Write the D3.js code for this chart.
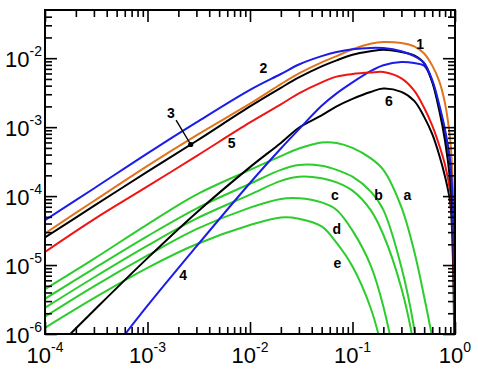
<!DOCTYPE html>
<html>
<head>
<meta charset="utf-8">
<script src="https://cdn.jsdelivr.net/npm/d3@7"></script>
<style>
  html, body { margin: 0; padding: 0; background: #fff; }
  svg { display: block; font-family: "Liberation Sans", Arial, sans-serif; }
</style>
</head>
<body>
<script>
// x grid shared by all curves
let xs = [1e-4, 3e-4, 1e-3, 3e-3, 0.01, 0.02, 0.03, 0.05, 0.07, 0.1, 0.15, 0.2, 0.3, 0.4, 0.5, 0.6, 0.7, 0.8, 0.9, 0.95, 0.98, 0.995];

// curves 1..6
let curve1 = [2.88e-5, 8.5e-5, 2.75e-4, 7.6e-4, 2.19e-3, 4.2e-3, 6.0e-3, 8.7e-3, 1.07e-2, 1.35e-2, 1.62e-2, 1.72e-2, 1.66e-2, 1.48e-2, 1.17e-2, 7.8e-3, 4.7e-3, 2.19e-3, 6.3e-4, 1.58e-4, 1.12e-5, 1.26e-7];
let curve2 = [4.47e-5, 1.29e-4, 4.17e-4, 1.17e-3, 3.47e-3, 5.9e-3, 8.1e-3, 1.07e-2, 1.23e-2, 1.35e-2, 1.41e-2, 1.40e-2, 1.26e-2, 1.07e-2, 8.5e-3, 4.8e-3, 2.14e-3, 9.1e-4, 3.16e-4, 7.9e-5, 6.3e-6, 1.26e-7];
let curve3 = [2.51e-5, 7.2e-5, 2.26e-4, 6.3e-4, 2.0e-3, 3.72e-3, 5.25e-3, 7.6e-3, 9.3e-3, 1.12e-2, 1.26e-2, 1.33e-2, 1.23e-2, 1.10e-2, 8.5e-3, 4.47e-3, 1.78e-3, 6.3e-4, 1.58e-4, 3.98e-5, 3.16e-6, 7.9e-8];
let curve4 = [3.55e-8, 2.63e-7, 2.57e-6, 1.86e-5, 1.55e-4, 4.9e-4, 9.3e-4, 2.04e-3, 3.09e-3, 4.47e-3, 6.5e-3, 7.9e-3, 8.8e-3, 8.5e-3, 7.8e-3, 4.6e-3, 2.0e-3, 8.3e-4, 2.82e-4, 7.1e-5, 5.6e-6, 1.12e-7];
let curve5 = [1.55e-5, 4.6e-5, 1.38e-4, 3.8e-4, 1.17e-3, 2.14e-3, 3.09e-3, 4.47e-3, 5.4e-3, 5.9e-3, 6.2e-3, 6.3e-3, 5.1e-3, 3.39e-3, 1.91e-3, 1.05e-3, 5.5e-4, 2.82e-4, 1.12e-4, 3.16e-5, 2.82e-6, 6.3e-8];
let curve6 = [4.3e-7, 2.19e-6, 1.26e-5, 5.75e-5, 2.63e-4, 5.9e-4, 9.8e-4, 1.48e-3, 2.0e-3, 2.57e-3, 3.24e-3, 3.63e-3, 3.24e-3, 2.4e-3, 1.41e-3, 7.9e-4, 3.98e-4, 1.91e-4, 7.9e-5, 1.58e-5, 1.26e-6, 3.16e-8];

// green curves a..e (only up to where they leave the plot)
let curveA = [4.47e-6, 1.23e-5, 3.89e-5, 1.05e-4, 2.4e-4, 3.8e-4, 4.9e-4, 6.0e-4, 5.9e-4, 5.0e-4, 3.55e-4, 2.4e-4, 6.9e-5, 1.58e-5, 3.47e-6, 8.9e-7, 2.5e-7];
let curveB = [3.24e-6, 8.9e-6, 2.63e-5, 6.6e-5, 1.51e-4, 2.4e-4, 2.82e-4, 2.75e-4, 2.4e-4, 1.91e-4, 1.17e-4, 6.3e-5, 9.3e-6, 1.2e-6, 1e-7];
let curveC = [2.4e-6, 6.6e-6, 1.91e-5, 4.7e-5, 1.05e-4, 1.66e-4, 1.91e-4, 1.82e-4, 1.58e-4, 1.2e-4, 6.3e-5, 2.75e-5, 4.6e-6, 6.3e-7, 4e-8];
let curveD = [1.78e-6, 4.9e-6, 1.38e-5, 3.31e-5, 6.8e-5, 9.1e-5, 9.3e-5, 8.1e-5, 6.3e-5, 3.16e-5, 1e-5, 2.5e-6, 1.26e-7, 5e-9];
let curveE = [1.23e-6, 3.31e-6, 9.1e-6, 2.0e-5, 3.8e-5, 4.9e-5, 4.7e-5, 3.63e-5, 2.09e-5, 9.5e-6, 2.4e-6, 5e-7, 1.6e-8, 6.3e-10];

// tick labels
let xMajor = [1e-4, 1e-3, 1e-2, 1e-1, 1];
let yMajor = [1e-6, 1e-5, 1e-4, 1e-3, 1e-2];

// curve labels: [text, x, y]
let curveLabels = [
    ["1", 0.456, 0.016], ["2", 0.0135, 7.2e-3], ["3", 1.69e-3, 1.6e-3],
    ["4", 2.23e-3, 7.3e-6], ["5", 6.64e-3, 5.8e-4], ["6", 0.227, 2.38e-3],
    ["a", 0.343, 1.03e-4], ["b", 0.179, 1.03e-4], ["c", 0.0675, 1.03e-4],
    ["d", 0.0702, 3.29e-5], ["e", 0.0711, 1.09e-5]
];
let arrowFrom = [1.9e-3, 1.26e-3];
let arrowTo = [2.64e-3, 5.6e-4];

let width = 478;
let height = 372;
let plot = { left: 45, right: 455, top: 10, bottom: 334 };

let svg = d3.select("body").append("svg")
    .attr("width", width).attr("height", height);

let x = d3.scaleLog().domain([1e-4, 1]).range([plot.left, plot.right]);
let y = d3.scaleLog().domain([1e-6, 5e-2]).range([plot.bottom, plot.top]);

svg.append("clipPath").attr("id", "clip")
    .append("rect")
    .attr("x", plot.left).attr("y", plot.top)
    .attr("width", plot.right - plot.left).attr("height", plot.bottom - plot.top);

let green = "#2dcc2d";
let series = [
    { vals: curveE, color: green },
    { vals: curveD, color: green },
    { vals: curveC, color: green },
    { vals: curveB, color: green },
    { vals: curveA, color: green },
    { vals: curve6, color: "#000" },
    { vals: curve4, color: "#1c1ce8" },
    { vals: curve5, color: "#f01414" },
    { vals: curve3, color: "#000" },
    { vals: curve1, color: "#e0741e" },
    { vals: curve2, color: "#1c1ce8" }
];

let line = d3.line()
    .x(d => x(d[0]))
    .y(d => y(d[1]))
    .curve(d3.curveCatmullRom.alpha(0.5));

svg.append("g").attr("clip-path", "url(#clip)")
    .selectAll("path")
    .data(series)
    .join("path")
    .attr("d", s => line(s.vals.map((v, i) => [xs[i], v])))
    .attr("fill", "none")
    .attr("stroke", s => s.color)
    .attr("stroke-width", 2);

// ticks, all pointing inward
let isMajor = v => Math.abs(Math.log10(v) - Math.round(Math.log10(v))) < 1e-6;
let xMinor = x.ticks().filter(v => !isMajor(v));
let yMinor = y.ticks().filter(v => !isMajor(v) && v < 0.049);
let majorLen = 12, minorLen = 7;

function tickAxis(axis, values, len, transform) {
    svg.append("g")
        .attr("transform", transform)
        .call(axis.tickValues(values).tickSize(-len).tickFormat(""))
        .call(g => g.select(".domain").remove())
        .call(g => g.selectAll("line").attr("stroke", "#000").attr("stroke-width", 1.6));
}
tickAxis(d3.axisBottom(x), xMinor, minorLen, `translate(0,${plot.bottom})`);
tickAxis(d3.axisBottom(x), xMajor, majorLen, `translate(0,${plot.bottom})`);
tickAxis(d3.axisTop(x), xMinor, minorLen, `translate(0,${plot.top})`);
tickAxis(d3.axisTop(x), xMajor, majorLen, `translate(0,${plot.top})`);
tickAxis(d3.axisLeft(y), yMinor, minorLen, `translate(${plot.left},0)`);
tickAxis(d3.axisLeft(y), yMajor, majorLen, `translate(${plot.left},0)`);
tickAxis(d3.axisRight(y), yMinor, minorLen, `translate(${plot.right},0)`);
tickAxis(d3.axisRight(y), yMajor, majorLen, `translate(${plot.right},0)`);

// frame
svg.append("rect")
    .attr("x", plot.left).attr("y", plot.top)
    .attr("width", plot.right - plot.left).attr("height", plot.bottom - plot.top)
    .attr("fill", "none").attr("stroke", "#000").attr("stroke-width", 2);

// power-of-ten labels
function powLabel(t) {
    t.append("tspan").text("10");
    t.append("tspan").attr("dy", -11).attr("font-size", 14)
        .text(d => Math.round(Math.log10(d)));
}
svg.selectAll(".xlab").data(xMajor).join("text")
    .attr("class", "xlab")
    .attr("x", d => x(d)).attr("y", 363)
    .attr("text-anchor", "middle").attr("font-size", 22)
    .call(powLabel);
svg.selectAll(".ylab").data(yMajor).join("text")
    .attr("class", "ylab")
    .attr("x", 42).attr("y", d => y(d) + 8.5)
    .attr("text-anchor", "end").attr("font-size", 22)
    .call(powLabel);

// curve names
svg.selectAll(".clab").data(curveLabels).join("text")
    .attr("class", "clab")
    .attr("x", d => x(d[1])).attr("y", d => y(d[2]))
    .attr("dy", "0.36em")
    .attr("text-anchor", "middle")
    .attr("font-size", 14).attr("font-weight", "bold")
    .text(d => d[0]);

// pointer for label 3
svg.append("line")
    .attr("x1", x(arrowFrom[0])).attr("y1", y(arrowFrom[1]))
    .attr("x2", x(arrowTo[0])).attr("y2", y(arrowTo[1]))
    .attr("stroke", "#000").attr("stroke-width", 1.4);
svg.append("circle")
    .attr("cx", x(arrowTo[0])).attr("cy", y(arrowTo[1]))
    .attr("r", 2.6).attr("fill", "#000");
</script>
</body>
</html>
